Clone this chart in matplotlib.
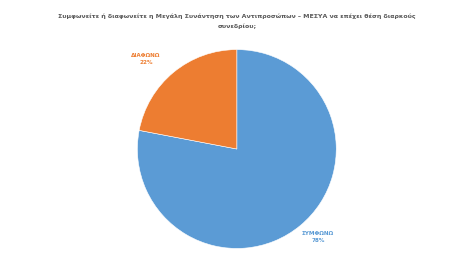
import matplotlib.pyplot as plt

labels = ['ΣΥΜΦΩΝΩ', 'ΔΙΑΦΩΝΩ']
values = [78, 22]
colors = ['#5B9BD5', '#ED7D31']

fig = plt.figure(figsize=(4.77, 2.68), dpi=100)
ax = fig.add_axes([0.287, 0.071, 0.419, 0.746])

wedges, _ = ax.pie(values, colors=colors, startangle=90, counterclock=False,
                   wedgeprops=dict(linewidth=0.4, edgecolor='white'))
ax.set_xlim(-1.005, 1.005)
ax.set_ylim(-1.005, 1.005)
ax.set_aspect('equal')

# подписи долей
pos = [(318, 237), (146, 59)]
for (x, y), lab, v, c in zip(pos, labels, values, colors):
    fig.text(x / 477, 1 - y / 268, f'{lab}\n{v}%', color=c, fontsize=4.1,
             fontweight='bold', ha='center', va='center', linespacing=1.6)

fig.text(0.497, 1 - 21.5 / 268,
         'Συμφωνείτε ή διαφωνείτε η Μεγάλη Συνάντηση των Αντιπροσώπων – ΜΕΣΥΑ να επέχει θέση διαρκούς\nσυνεδρίου;',
         ha='center', va='center', fontsize=4.5, fontweight='bold', color='#595959',
         linespacing=1.9)

fig.savefig('out.png', dpi=100)
